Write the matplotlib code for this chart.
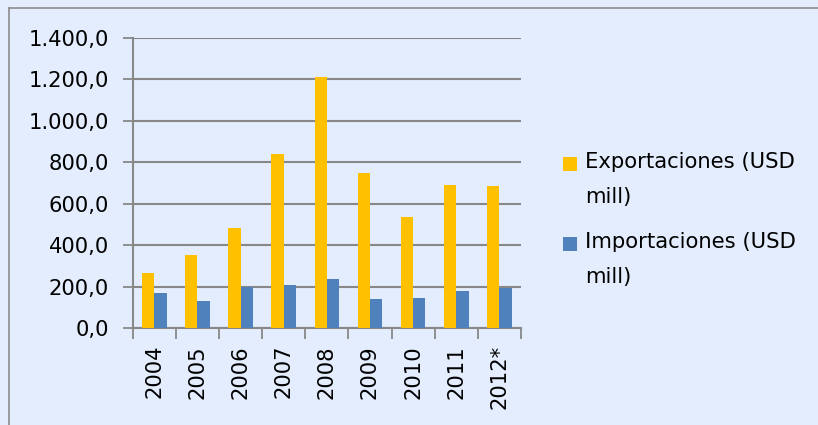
import matplotlib
matplotlib.use("Agg")
import matplotlib.pyplot as plt
from matplotlib.patches import Rectangle
from matplotlib.lines import Line2D
from matplotlib.ticker import FuncFormatter, FixedLocator
import numpy as np

years = ["2004", "2005", "2006", "2007", "2008", "2009", "2010", "2011", "2012*"]
exportaciones = [268, 353, 483, 839, 1209, 748, 536, 689, 685]
importaciones = [168, 132, 199, 209, 238, 143, 144, 180, 196]
series_labels = ["Exportaciones (USD\nmill)", "Importaciones (USD\nmill)"]
colors = ["#FFC000", "#4F81BD"]

W, H = 818, 425
bg = "#E3EDFD"
fs = 15.2
plt.rcParams['font.family'] = ['DejaVu Sans']
fig = plt.figure(figsize=(W / 100, H / 100), dpi=100)
fig.patch.set_facecolor(bg)
fig.patch.set_edgecolor(bg)
fig.patch.set_linewidth(0)
# outer frame (only left and top edges visible in the cropped image)
fig.lines.append(Line2D([9 / W, 9 / W], [0, (H - 8) / H], transform=fig.transFigure,
                        color="#8C8C8C", linewidth=1.2))
fig.lines.append(Line2D([9 / W, 1.05], [(H - 8) / H, (H - 8) / H], transform=fig.transFigure,
                        color="#8C8C8C", linewidth=1.2))

ax = fig.add_axes([132.7 / W, (H - 328.3) / H, (521 - 132.7) / W, (328.3 - 37.7) / H])
ax.set_facecolor(bg)
x = np.arange(len(years))
bw = 0.286
ax.bar(x - bw / 2, exportaciones, bw, color=colors[0], zorder=3)
ax.bar(x + bw / 2, importaciones, bw, color=colors[1], zorder=3)

ax.set_xlim(-0.5, len(years) - 0.5)
ax.set_ylim(0, 1400)
ax.set_yticks(np.arange(0, 1401, 200))
ax.yaxis.set_major_formatter(FuncFormatter(
    lambda v, p: f"{v:,.1f}".replace(",", "X").replace(".", ",").replace("X", ".")))
ax.grid(axis="y", color="#888888", linewidth=1.5, zorder=0)
ax.set_axisbelow(True)

ax.set_xticks(x)
ax.set_xticklabels(years, rotation=90)
ax.xaxis.set_minor_locator(FixedLocator(np.arange(-0.5, len(years), 1)))
ax.tick_params(axis="x", which="major", length=0, pad=12, labelsize=fs)
ax.tick_params(axis="x", which="minor", length=8, width=1.3, color="#888888", direction="out")
ax.tick_params(axis="y", length=7, width=1.3, color="#888888", pad=10, labelsize=fs)

for s in ["top", "right"]:
    ax.spines[s].set_visible(False)
for s in ["left", "bottom"]:
    ax.spines[s].set_color("#888888")
    ax.spines[s].set_linewidth(1.5)

# legend
entry_y = [164, 244]
for lab, col, yy in zip(series_labels, colors, entry_y):
    fig.patches.append(Rectangle((563 / W, (H - yy - 7) / H), 14 / W, 14 / H,
                                 transform=fig.transFigure, facecolor=col, edgecolor="none"))
    fig.text(585 / W, (H - yy + 12) / H, lab, fontsize=fs, va="top", ha="left",
             linespacing=1.95)

fig.savefig("out.png", dpi=100, facecolor=bg, edgecolor=bg)
